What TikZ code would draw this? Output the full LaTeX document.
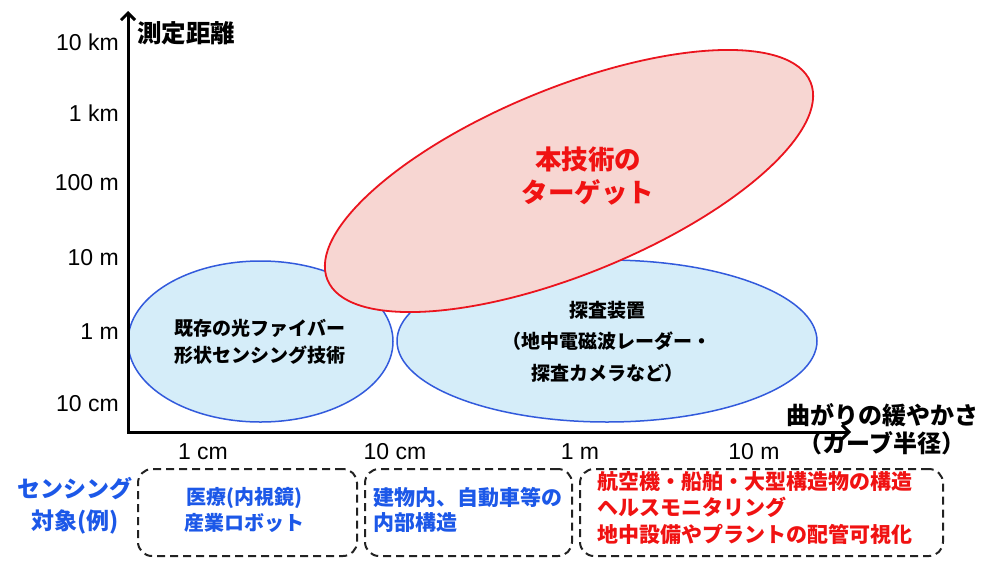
\documentclass[tikz,border=0pt]{standalone}
\usepackage{fontspec}
\setmainfont{Liberation Sans}
\newfontfamily\jp{Noto Sans CJK JP}
\usetikzlibrary{shapes.geometric,arrows.meta}
\definecolor{bluetxt}{RGB}{28,88,232}
\definecolor{redtxt}{RGB}{240,18,18}
\definecolor{bluefill}{RGB}{213,237,249}
\definecolor{blueline}{RGB}{50,90,220}
\definecolor{redfill}{RGB}{247,214,210}
\definecolor{redline}{RGB}{235,20,30}
\definecolor{boxline}{RGB}{34,34,34}
\tikzset{
  ticklbl/.style={font=\fontsize{23}{26}\selectfont, inner sep=0pt},
  jpbold/.style={inner sep=0pt, font=\jp\bfseries\fontsize{#1}{#1}\selectfont},
  bluezone/.style={ellipse, draw=blueline, fill=bluefill, line width=1.5pt, inner sep=0pt},
  redzone/.style={ellipse, draw=redline, fill=redfill, line width=1.8pt, inner sep=0pt},
  dashbox/.style={draw=boxline, line width=2pt, dash pattern=on 8pt off 5pt, rounded corners=14pt, inner sep=0pt},
  axisline/.style={line width=3pt, {Straight Barb[length=7pt,width=14pt,line width=3pt]}-{Straight Barb[length=7pt,width=14pt,line width=3pt]}}
}
\begin{document}
\begin{tikzpicture}[x=1pt,y=-1pt]
\useasboundingbox (0,0) rectangle (1000,565);
\fill[white] (0,0) rectangle (1000,565);

% ellipses
\node[bluezone, minimum width=265pt, minimum height=161pt] (fiber) at (260.5,341.5) {};
\node[bluezone, minimum width=420pt, minimum height=162pt] (probe) at (607,341) {};
\node[redzone, rotate=22.25, minimum width=522pt, minimum height=186pt] (target) at (569,181) {};

% axes
\coordinate (origin) at (128,432);
\coordinate (ytip) at (128,11);
\coordinate (xtip) at (851,432);
\draw[axisline, line join=miter] (ytip) -- (origin) -- (xtip);

% axis titles
\node[jpbold=24.5, anchor=west] (ytitle) at (137,33) {測定距離};
\node[jpbold=24, align=center, font=\jp\bfseries\fontsize{24}{28}\selectfont] (xtitle) at (882,429) {曲がりの緩やかさ\\（カーブ半径）};

% y tick labels
\node[ticklbl, anchor=east] (y1) at (119,42) {10 km};
\node[ticklbl, anchor=east] (y2) at (119,113) {1 km};
\node[ticklbl, anchor=east] (y3) at (119,183) {100 m};
\node[ticklbl, anchor=east] (y4) at (119,258) {10 m};
\node[ticklbl, anchor=east] (y5) at (119,332) {1 m};
\node[ticklbl, anchor=east] (y6) at (119,404) {10 cm};

% x tick labels
\node[ticklbl] (x1) at (203,452) {1 cm};
\node[ticklbl] (x2) at (395,452) {10 cm};
\node[ticklbl] (x3) at (580,452) {1 m};
\node[ticklbl] (x4) at (754,452) {10 m};

% ellipse texts
\node[align=center, inner sep=0pt, font=\jp\bfseries\fontsize{19}{27}\selectfont] (fibertxt) at (260,341.5) {既存の光ファイバー\\形状センシング技術};
\node[align=center, inner sep=0pt, font=\jp\bfseries\fontsize{19}{31.5}\selectfont] (probetxt) at (607,341.5) {探査装置\\（地中電磁波レーダー・\\探査カメラなど）};
\node[align=center, inner sep=0pt, text=redtxt, font=\jp\bfseries\fontsize{26.5}{33}\selectfont] (targettxt) at (588,176.5) {本技術の\\ターゲット};

% bottom row
\node[align=center, inner sep=0pt, text=bluetxt, font=\jp\bfseries\fontsize{23}{32}\selectfont] (senslbl) at (75,506) {センシング\\対象(例)};
\node[dashbox, minimum width=219pt, minimum height=87pt] (box1) at (247.5,512.5) {};
\node[dashbox, minimum width=207pt, minimum height=87pt] (box2) at (468.5,512.5) {};
\node[dashbox, minimum width=363pt, minimum height=87pt] (box3) at (761.5,512.5) {};
\node[align=center, inner sep=0pt, text=bluetxt, font=\jp\bfseries\fontsize{20}{26}\selectfont] (box1txt) at (244,510) {医療(内視鏡)\\産業ロボット};
\node[align=left, anchor=west, inner sep=0pt, text=bluetxt, font=\jp\bfseries\fontsize{21}{25}\selectfont] (box2txt) at (373,510) {建物内、自動車等の\\内部構造};
\node[align=left, anchor=west, inner sep=0pt, text=redtxt, font=\jp\bfseries\fontsize{21}{26.5}\selectfont] (box3txt) at (597,508) {航空機・船舶・大型構造物の構造\\ヘルスモニタリング\\地中設備やプラントの配管可視化};
\end{tikzpicture}
\end{document}
